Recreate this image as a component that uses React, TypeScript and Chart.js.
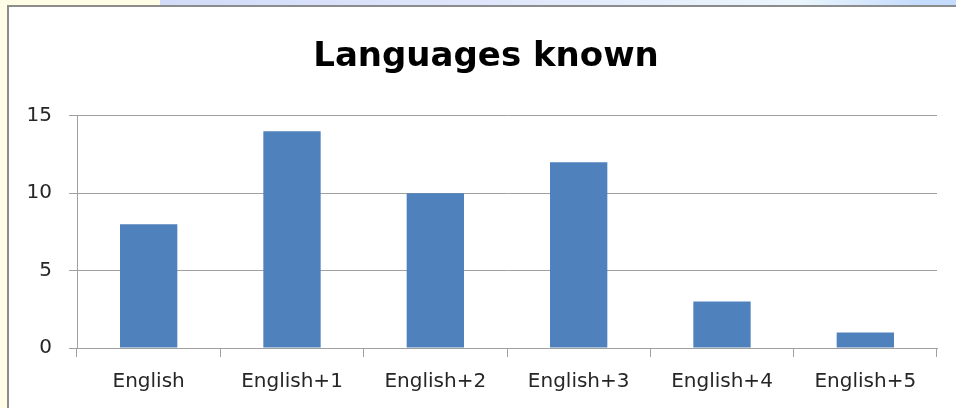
import React, { useEffect, useRef } from "react";
import { Chart, registerables } from "chart.js";

Chart.register(...registerables);

const categories = ["English", "English+1", "English+2", "English+3", "English+4", "English+5"];
const counts = [8, 14, 10, 12, 3, 1];
const yTicks = [0, 5, 10, 15];
const titleText = "Languages known";

const FONT = "'DejaVu Sans', sans-serif";

export default function App() {
  const ref = useRef<HTMLCanvasElement | null>(null);

  useEffect(() => {
    document.body.style.margin = "0";
    const canvas = ref.current;
    if (!canvas) return;
    const chart = new Chart(canvas, {
      type: "bar",
      data: {
        labels: categories,
        datasets: [
          {
            label: "Count",
            data: counts,
            backgroundColor: "#4f81bd",
            borderWidth: 0,
            categoryPercentage: 1,
            barPercentage: 0.4,
          },
        ],
      },
      options: {
        animation: false,
        responsive: false,
        maintainAspectRatio: false,
        layout: { padding: { left: 10, right: 3, top: 0, bottom: 0 } },
        plugins: {
          legend: { display: false },
          tooltip: { enabled: false },
          title: {
            display: true,
            text: titleText,
            color: "#000000",
            font: { family: FONT, size: 34, weight: "bold" },
            padding: { top: 30, bottom: 38 },
          },
        },
        scales: {
          x: {
            offset: true,
            afterFit: (s: any) => {
              s.height = 60;
            },
            grid: {
              offset: true,
              drawOnChartArea: false,
              drawTicks: true,
              tickLength: 9,
              color: "#a0a0a0",
            },
            border: { display: true, color: "#a0a0a0" },
            ticks: {
              color: "#262626",
              font: { family: FONT, size: 20 },
              padding: 13,
              maxRotation: 0,
            },
          },
          y: {
            min: 0,
            max: 15,
            afterFit: (s: any) => {
              s.width = 58;
            },
            afterBuildTicks: (s: any) => {
              s.ticks = yTicks.map((v) => ({ value: v }));
            },
            grid: {
              color: "#a0a0a0",
              drawTicks: true,
              tickLength: 8,
            },
            border: { display: true, color: "#a0a0a0" },
            ticks: {
              color: "#262626",
              font: { family: FONT, size: 20 },
              padding: 17,
            },
          },
          spacer: {
            type: "linear",
            position: "right",
            display: true,
            afterFit: (s: any) => {
              s.width = 16;
            },
            grid: { display: false },
            border: { display: false },
            ticks: { display: false },
          },
        },
      },
    });
    return () => chart.destroy();
  }, []);

  return (
    <div
      style={{
        position: "fixed",
        left: 0,
        top: 0,
        width: 956,
        height: 408,
        background: "#fffde6",
        overflow: "hidden",
      }}
    >
      <div
        style={{
          position: "absolute",
          left: 160,
          top: 0,
          width: 796,
          height: 5,
          background: "linear-gradient(90deg, #d2dcf8 0%, #dfe6fb 40%, #eaf6fc 80%, #c6dcfc 95%)",
        }}
      />
      <div
        style={{
          position: "absolute",
          left: 7,
          top: 5,
          width: 949,
          height: 403,
          boxSizing: "border-box",
          borderLeft: "2px solid #8c8c8c",
          borderTop: "2px solid #8c8c8c",
          background: "#ffffff",
        }}
      >
        <canvas ref={ref} width={947} height={401} style={{ display: "block", width: 947, height: 401 }} />
      </div>
    </div>
  );
}
